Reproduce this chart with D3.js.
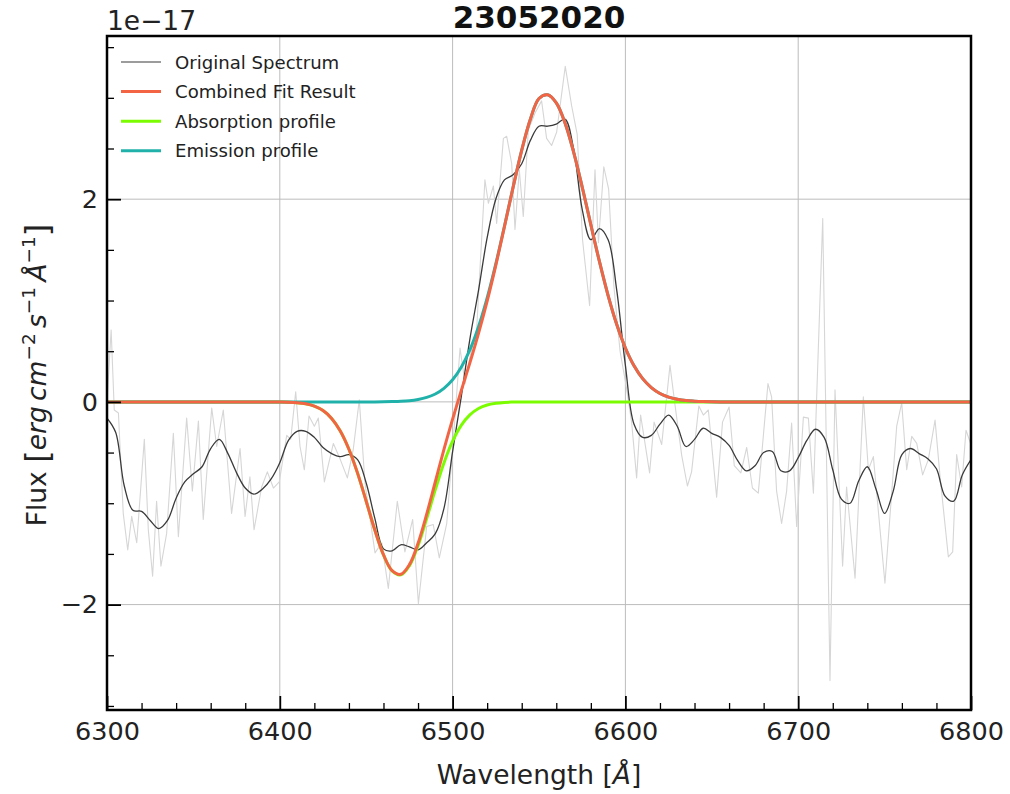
<!DOCTYPE html>
<html>
<head>
<meta charset="utf-8">
<script src="https://cdn.jsdelivr.net/npm/d3@7"></script>
<style>
  html, body { margin: 0; padding: 0; background: #fff; }
  svg { display: block; font-family: "DejaVu Sans", sans-serif; }
</style>
</head>
<body>
<svg id="chart" width="1010" height="794"></svg>
<script>
// ---- data -------------------------------------------------------------
const title = "23052020";

// sampled spectrum (light grey trace): wavelength [Å] and flux [1e-17 erg/cm2/s/Å]
const rawWave = [6300.0,6302.4,6304.2,6306.6,6309.4,6312.0,6314.3,6317.2,6321.6,6323.9,
  6326.4,6328.7,6331.2,6334.5,6338.4,6341.3,6346.1,6349.4,6352.9,6355.7,
  6360.6,6363.5,6367.3,6372.1,6377.0,6379.9,6382.7,6385.1,6389.5,6392.8,
  6396.3,6399.7,6404.0,6406.3,6409.2,6411.7,6414.2,6416.9,6420.0,6422.3,
  6425.8,6431.0,6434.8,6439.1,6442.5,6446.0,6449.3,6455.1,6459.0,6462.8,
  6468.0,6472.4,6476.9,6480.2,6485.0,6488.8,6492.3,6496.6,6500.4,6504.3,
  6507.2,6510.1,6513.9,6518.7,6520.7,6523.6,6525.5,6529.4,6531.3,6534.2,
  6536.1,6538.6,6540.9,6543.8,6547.7,6551.5,6554.4,6557.3,6560.2,6565.2,
  6568.9,6572.1,6575.2,6579.3,6582.4,6584.4,6587.5,6590.3,6593.3,6596.9,
  6600.7,6603.6,6606.5,6608.8,6614.0,6616.6,6621.0,6625.8,6628.7,6632.6,
  6635.9,6638.3,6642.5,6645.1,6648.0,6652.8,6656.2,6660.0,6663.0,6666.8,
  6670.2,6673.5,6676.9,6682.5,6684.6,6687.5,6690.4,6693.3,6696.2,6699.1,
  6703.0,6705.9,6708.8,6714.2,6718.4,6721.3,6725.7,6728.0,6732.9,6737.7,
  6740.6,6743.5,6750.2,6754.1,6757.0,6759.9,6762.8,6765.7,6768.6,6772.0,
  6775.3,6779.2,6782.1,6786.9,6789.4,6791.7,6794.6,6797.1,6800.0];
const rawFlux = [0.00,0.71,-0.08,-0.11,-1.10,-1.46,-1.13,-1.39,-0.37,-1.26,
  -1.72,-0.98,-1.62,-1.30,-0.31,-1.33,-0.16,-0.88,-0.19,-1.16,
  -0.06,-0.44,-0.08,-1.10,-0.46,-1.13,-0.74,-1.26,-0.84,-0.69,
  -0.85,-0.79,-0.33,-0.37,0.10,-0.44,-0.67,-0.14,-0.24,-0.16,
  -0.79,-0.41,-0.56,-0.75,-0.47,0.02,-0.80,-1.49,-1.39,-1.84,
  -0.98,-1.48,-1.16,-1.99,-1.23,-1.21,-1.54,-1.20,-0.38,0.53,
  0.18,0.45,0.71,2.19,1.96,2.13,1.76,2.60,2.62,2.35,
  1.70,2.29,1.83,2.68,2.85,2.97,2.60,2.53,2.66,3.31,
  2.92,2.64,1.60,0.95,2.29,1.57,2.32,2.10,1.15,0.50,
  0.13,-0.20,-0.75,-0.13,-0.70,-0.20,-0.42,0.36,-0.03,-0.53,
  -0.83,-0.69,-0.04,-0.13,-0.08,-0.94,-0.20,-0.05,-0.63,-0.70,
  -0.45,-0.85,-0.90,0.18,0.05,-0.88,-1.20,-0.88,-0.21,-1.23,
  -0.15,-0.16,-0.90,1.81,-2.75,0.12,-1.62,-0.84,-1.74,0.05,
  -0.67,-0.54,-1.79,-0.90,-0.24,-0.01,-0.67,-0.34,-0.41,-0.72,
  -0.57,-0.18,-0.74,-1.53,-1.48,-0.52,-0.84,-0.28,-0.42];

// common 5 Å grid for the smoothed spectrum and the fitted profiles
const gridWave = d3.range(6300, 6801, 5);

// smoothed spectrum ("Original Spectrum")
const smoothFlux = [
  -0.16,-0.30,-0.83,-1.07,-1.08,-1.17,-1.25,-1.17,-0.95,-0.79,
  -0.71,-0.64,-0.46,-0.37,-0.51,-0.70,-0.85,-0.91,-0.86,-0.76,
  -0.60,-0.38,-0.29,-0.29,-0.35,-0.45,-0.51,-0.54,-0.52,-0.57,
  -0.80,-1.15,-1.45,-1.47,-1.41,-1.43,-1.46,-1.39,-1.30,-1.05,
  -0.49,0.05,0.62,1.10,1.62,2.00,2.19,2.24,2.35,2.58,
  2.72,2.72,2.74,2.79,2.50,1.90,1.60,1.71,1.60,1.10,
  0.36,-0.22,-0.35,-0.33,-0.22,-0.13,-0.24,-0.44,-0.37,-0.26,
  -0.31,-0.35,-0.43,-0.58,-0.68,-0.63,-0.50,-0.49,-0.68,-0.68,
  -0.55,-0.38,-0.27,-0.35,-0.67,-0.96,-1.00,-0.78,-0.64,-0.86,
  -1.10,-0.88,-0.52,-0.46,-0.51,-0.56,-0.66,-0.93,-0.98,-0.72,
  -0.57];

// fitted emission component
const emissionFlux = [
  0,0,0,0,0,0,0,0,0,0,
  0,0,0,0,0,0,0,0,0,0,
  0,0,0,0,0,0,0,0,0,0,
  0.000,0.000,0.001,0.003,0.006,0.012,0.024,0.044,0.078,0.134,
  0.218,0.342,0.513,0.741,1.025,1.361,1.733,2.118,2.483,2.789,
  2.993,3.030,2.950,2.754,2.467,2.120,1.748,1.383,1.049,0.763,
  0.532,0.356,0.229,0.141,0.083,0.047,0.026,0.013,0.007,0.003,
  0.001,0,0,0,0,0,0,0,0,0,
  0,0,0,0,0,0,0,0,0,0,
  0,0,0,0,0,0,0,0,0,0,
  0];

// fitted absorption component
const absorptionFlux = [
  0,0,0,0,0,0,0,0,0,0,
  0,0,0,0,0,0,0,0,0,0,
  -0.001,-0.003,-0.008,-0.019,-0.042,-0.086,-0.163,-0.287,-0.467,-0.703,
  -0.980,-1.264,-1.509,-1.668,-1.707,-1.618,-1.419,-1.152,-0.866,-0.602,
  -0.388,-0.231,-0.128,-0.065,-0.031,-0.014,-0.005,-0.002,-0.001,0,
  0,0,0,0,0,0,0,0,0,0,
  0,0,0,0,0,0,0,0,0,0,
  0,0,0,0,0,0,0,0,0,0,
  0,0,0,0,0,0,0,0,0,0,
  0,0,0,0,0,0,0,0,0,0,
  0];

// combined model = emission + absorption
const combinedFlux = emissionFlux.map((v, i) => v + absorptionFlux[i]);

const xMajorTicks = [6300, 6400, 6500, 6600, 6700, 6800];
const yMajorTicks = [-2, 0, 2];

const legendItems = [
  { label: "Original Spectrum",    color: "#3a3a3a", width: 1.2 },
  { label: "Combined Fit Result",  color: "#f26444", width: 3 },
  { label: "Absorption profile",   color: "#7cfc00", width: 3 },
  { label: "Emission profile",     color: "#20b2aa", width: 3 }
];

// ---- layout -----------------------------------------------------------
const svg = d3.select("#chart");
const L = 107, R = 971, T = 36, B = 710;

const x = d3.scaleLinear().domain([6300, 6800]).range([L, R]);
const y = d3.scaleLinear().domain([-3.04, 3.61]).range([B, T]);

svg.append("defs").append("clipPath").attr("id", "plotclip")
  .append("rect").attr("x", L).attr("y", T).attr("width", R - L).attr("height", B - T);

// grid
const grid = svg.append("g");
grid.selectAll("line.gx").data(xMajorTicks.slice(1, -1)).join("line")
  .attr("x1", d => x(d)).attr("x2", d => x(d)).attr("y1", T).attr("y2", B)
  .attr("stroke", "#bcbcbc").attr("stroke-width", 1);
grid.selectAll("line.gy").data(yMajorTicks).join("line")
  .attr("y1", d => y(d)).attr("y2", d => y(d)).attr("x1", L).attr("x2", R)
  .attr("stroke", "#bcbcbc").attr("stroke-width", 1);

// curves
const plot = svg.append("g").attr("clip-path", "url(#plotclip)");

const rawLine = d3.line().x((d, i) => x(rawWave[i])).y(d => y(d));
plot.append("path").datum(rawFlux)
  .attr("d", rawLine).attr("fill", "none")
  .attr("stroke", "#d6d6d6").attr("stroke-width", 1.1).attr("stroke-linejoin", "round");

const gridLine = d3.line().x((d, i) => x(gridWave[i])).y(d => y(d)).curve(d3.curveCatmullRom.alpha(0.5));

plot.append("path").datum(smoothFlux)
  .attr("d", gridLine).attr("fill", "none")
  .attr("stroke", legendItems[0].color).attr("stroke-width", 1.3);

plot.append("path").datum(absorptionFlux)
  .attr("d", gridLine).attr("fill", "none")
  .attr("stroke", legendItems[2].color).attr("stroke-width", legendItems[2].width);

plot.append("path").datum(emissionFlux)
  .attr("d", gridLine).attr("fill", "none")
  .attr("stroke", legendItems[3].color).attr("stroke-width", legendItems[3].width);

plot.append("path").datum(combinedFlux)
  .attr("d", gridLine).attr("fill", "none")
  .attr("stroke", legendItems[1].color).attr("stroke-width", legendItems[1].width);

// axes (ticks pointing inward)
const xMinor = d3.range(6320, 6800, 20).filter(v => v % 100 !== 0);
const yMinor = d3.range(-3, 3.51, 0.5).filter(v => Math.abs(v % 2) > 1e-9);

function styleAxis(g, w) {
  g.select(".domain").remove();
  g.selectAll(".tick line").attr("stroke", "#000").attr("stroke-width", w);
  g.selectAll(".tick text").attr("fill", "#222").attr("font-size", 25.5)
    .attr("font-family", "DejaVu Sans, sans-serif");
}

svg.append("g").attr("transform", `translate(0,${B})`)
  .call(d3.axisBottom(x).tickValues(xMinor).tickSize(-7).tickFormat(""))
  .call(g => styleAxis(g, 1.3));
svg.append("g").attr("transform", `translate(0,${B})`)
  .call(d3.axisBottom(x).tickValues(xMajorTicks).tickSize(-14).tickPadding(12).tickFormat(d3.format("d")))
  .call(g => styleAxis(g, 1.8));

svg.append("g").attr("transform", `translate(${L},0)`)
  .call(d3.axisLeft(y).tickValues(yMinor).tickSize(-7).tickFormat(""))
  .call(g => styleAxis(g, 1.3));
svg.append("g").attr("transform", `translate(${L},0)`)
  .call(d3.axisLeft(y).tickValues(yMajorTicks).tickSize(-14).tickPadding(9).tickFormat(d3.format("d")))
  .call(g => styleAxis(g, 1.8));

// frame
svg.append("rect").attr("x", L).attr("y", T).attr("width", R - L).attr("height", B - T)
  .attr("fill", "none").attr("stroke", "#000").attr("stroke-width", 2.5);

// offset text, title
svg.append("text").attr("x", L).attr("y", 30).attr("font-size", 26.5).attr("fill", "#222")
  .text("1e\u221217");
svg.append("text").attr("x", (L + R) / 2).attr("y", 28).attr("text-anchor", "middle")
  .attr("font-size", 31).attr("font-weight", "bold").attr("fill", "#111").text(title);

// x label
const xl = svg.append("text").attr("x", (L + R) / 2).attr("y", 784).attr("text-anchor", "middle")
  .attr("font-size", 26.5).attr("fill", "#222");
xl.append("tspan").text("Wavelength [");
xl.append("tspan").attr("font-style", "italic").text("Å");
xl.append("tspan").text("]");

// y label
const yl = svg.append("text").attr("transform", `translate(46,${(T + B) / 2 + 2}) rotate(-90)`)
  .attr("text-anchor", "middle").attr("font-size", 26.5).attr("fill", "#222");
yl.append("tspan").text("Flux ");
yl.append("tspan").attr("font-size", 32).attr("dy", 2).text("[");
yl.append("tspan").attr("font-style", "italic").attr("dy", -2).text("erg\u2009cm");
yl.append("tspan").attr("font-size", 18.5).attr("dy", -11).text("\u22122");
yl.append("tspan").attr("font-style", "italic").attr("dy", 11).text("\u2009s");
yl.append("tspan").attr("font-size", 18.5).attr("dy", -11).text("\u22121");
yl.append("tspan").attr("font-style", "italic").attr("dy", 11).text("\u2009Å");
yl.append("tspan").attr("font-size", 18.5).attr("dy", -11).text("\u22121");
yl.append("tspan").attr("font-size", 32).attr("dy", 13).text("]");

// legend
const lg = svg.append("g");
const rows = lg.selectAll("g").data(legendItems).join("g")
  .attr("transform", (d, i) => `translate(0,${62 + i * 29.6})`);
rows.append("line").attr("x1", 121).attr("x2", 161).attr("y1", 0).attr("y2", 0)
  .attr("stroke", d => d.color).attr("stroke-width", d => d.width);
rows.append("text").attr("x", 175).attr("y", 6.5).attr("font-size", 18.1).attr("fill", "#222")
  .text(d => d.label);
</script>
</body>
</html>
